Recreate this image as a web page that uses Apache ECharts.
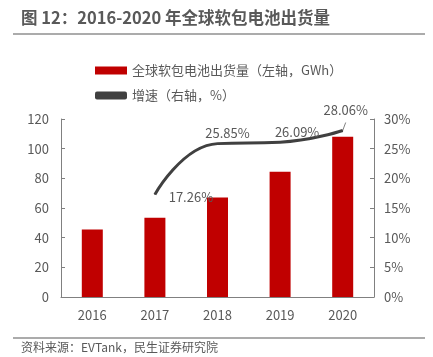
<!DOCTYPE html>
<html><head><meta charset="utf-8">
<script src="https://cdn.jsdelivr.net/npm/echarts@6/dist/echarts.min.js"></script>
<style>html,body{margin:0;padding:0;background:#fff}#c{width:433px;height:357px}</style>
</head><body><div id="c"></div>
<script>
const categories = ['2016','2017','2018','2019','2020'];
const shipments = [45.5, 53.5, 67, 84.5, 108];
const growth = [null, 17.26, 25.85, 26.09, 28.06];
const leftTicks = [0, 20, 40, 60, 80, 100, 120];
const rightTicks = [0, 5, 10, 15, 20, 25, 30];

const font = '"Noto Sans CJK SC", "Noto Sans", sans-serif';
const chart = echarts.init(document.getElementById('c'), null, {renderer:'canvas'});
const labelShift = [[0,0], [36, 14], [10, 1], [17, 2], [3, -8]];
chart.setOption({
  animation:false,
  graphic:[
    {type:'text', left:21, top:9, style:{text:'图 12：2016-2020 年全球软包电池出货量', font:'bold 16.5px '+font, fill:'#595959'}},
    {type:'line', shape:{x1:13,y1:34,x2:425,y2:34}, style:{stroke:'#595959', lineWidth:1.2}},
    {type:'line', shape:{x1:13,y1:338,x2:425,y2:338}, style:{stroke:'#595959', lineWidth:1.2}},
    {type:'text', left:21, top:341, style:{text:'资料来源：EVTank，民生证券研究院', font:'12px '+font, fill:'#595959'}}
  ],
  legend:{
    orient:'vertical', left:90, top:59, itemGap:12, itemWidth:32, itemHeight:8,
    textStyle:{fontFamily:font, fontSize:13, color:'#595959'},
    data:[
      {name:'全球软包电池出货量（左轴，GWh）', icon:'rect'},
      {name:'增速（右轴，%）', icon:'roundRect', itemStyle:{color:'#404040', opacity:1}}
    ]
  },
  grid:{left:61, right:59, top:119, bottom:60},
  xAxis:{type:'category', data:categories,
    axisLine:{lineStyle:{color:'#808080'}}, axisTick:{show:false},
    axisLabel:{fontFamily:font, fontSize:13, color:'#595959', margin:12}},
  yAxis:[
    {type:'value', min:0, max:120, interval:20, position:'left',
      axisLine:{show:true, lineStyle:{color:'#808080'}}, axisTick:{show:true, inside:true, length:4, lineStyle:{color:'#808080'}},
      splitLine:{show:false},
      axisLabel:{fontFamily:font, fontSize:13, color:'#595959', margin:12, formatter:v=>leftTicks.includes(v)?String(v):''}},
    {type:'value', min:0, max:30, interval:5, position:'right',
      axisLine:{show:true, lineStyle:{color:'#808080'}}, axisTick:{show:true, inside:true, length:4, lineStyle:{color:'#808080'}},
      splitLine:{show:false},
      axisLabel:{fontFamily:font, fontSize:13, color:'#595959', margin:10, formatter:v=>rightTicks.includes(v)?v+'%':''}}
  ],
  series:[
    {name:'全球软包电池出货量（左轴，GWh）', type:'bar', data:shipments, barWidth:21,
      itemStyle:{color:'#C00000'}},
    {name:'增速（右轴，%）', type:'line', yAxisIndex:1, smooth:0.5, symbol:'circle', symbolSize:1, showSymbol:true,
      lineStyle:{color:'#404040', width:3}, itemStyle:{color:'#404040'},
      label:{show:true, position:'top', fontFamily:font, fontSize:13, color:'#595959',
        formatter:p=>Number(p.value).toFixed(2)+'%'},
      labelLayout:p=>({dx:labelShift[p.dataIndex][0], dy:labelShift[p.dataIndex][1], hideOverlap:false}),
      data:growth
    }
  ]
});
chart.setOption({graphic:[{type:'line', id:'lead', shape:(function(){
  const p = chart.convertToPixel({xAxisIndex:0, yAxisIndex:1},[4,28.06]);
  return {x1:p[0], y1:p[1], x2:p[0]+3, y2:p[1]-8};
})(), style:{stroke:'#808080', lineWidth:1}}]});
</script></body></html>
